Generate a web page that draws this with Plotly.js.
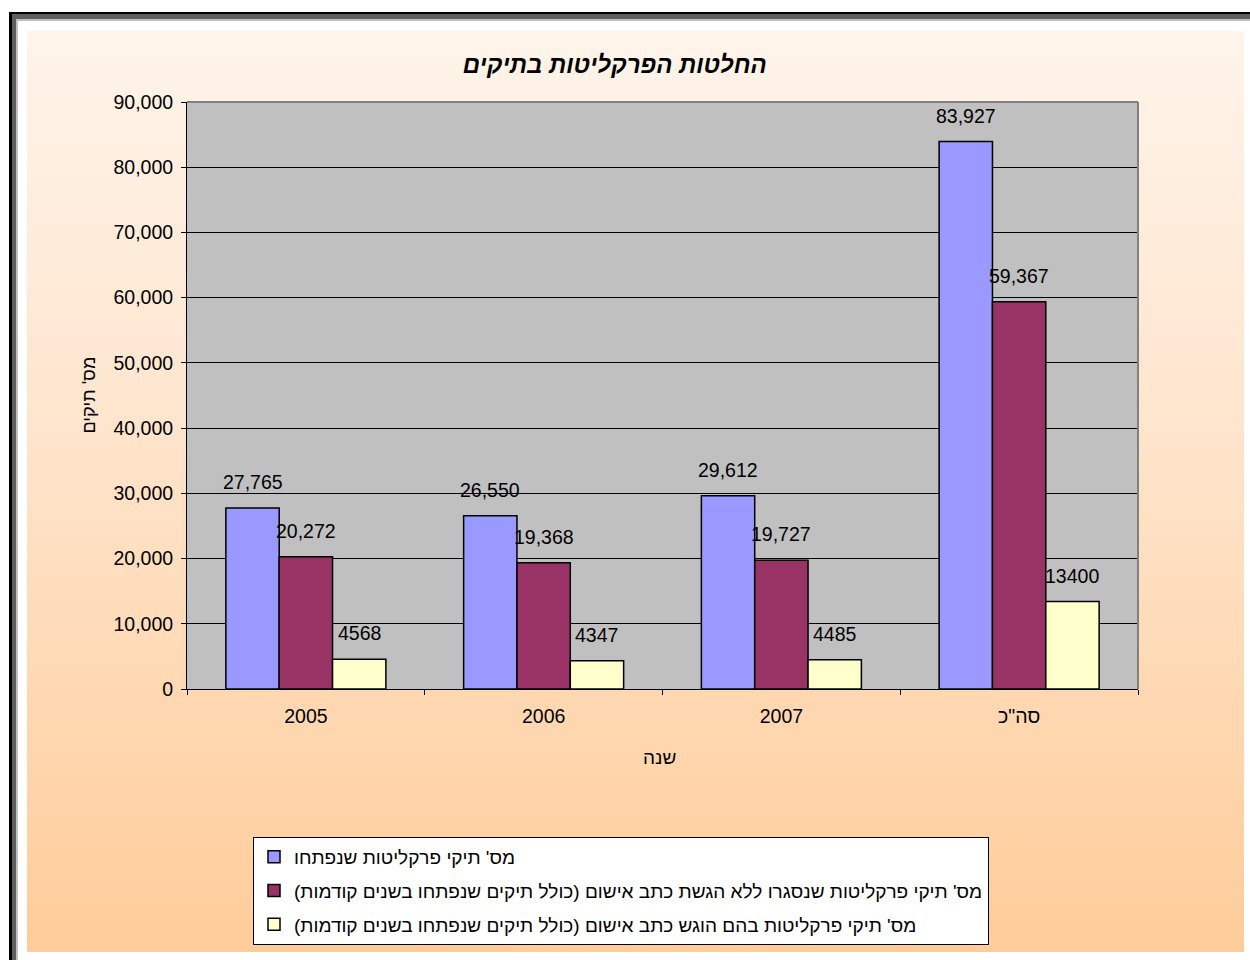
<!DOCTYPE html>
<html>
<head>
<meta charset="utf-8">
<script src="https://cdn.plot.ly/plotly-3.0.1.min.js"></script>
<style>
  html, body { margin: 0; padding: 0; background: #ffffff; overflow: hidden; }
  #f1 { position: absolute; left: 9px; top: 12px; width: 1400px; height: 1100px; background: #000000; }
  #f2 { position: absolute; left: 12px; top: 14px; width: 1400px; height: 1100px; background: #5f5f5f; }
  #f3 { position: absolute; left: 16px; top: 19px; width: 1400px; height: 1100px; background: #c0c0c0; }
  #f4 { position: absolute; left: 18px; top: 21px; width: 1400px; height: 1100px; background: #ffffff; }
  #area { position: absolute; left: 27px; top: 31px; width: 1217px; height: 921px; overflow: hidden;
          background: linear-gradient(to bottom, #fef4ea 0%, #fee6cf 40%, #ffcc99 100%); }
  #chart { position: absolute; left: 0; top: 0; width: 1217px; height: 981px; }
</style>
</head>
<body>
<div id="f1"></div><div id="f2"></div><div id="f3"></div><div id="f4"></div>
<div id="area"><div id="chart"></div></div>
<script>
const categories = ["2005", "2006", "2007", "סה\"כ"];
const seriesNames = [
  "מס' תיקי פרקליטות שנפתחו",
  "מס' תיקי פרקליטות שנסגרו ללא הגשת כתב אישום (כולל תיקים שנפתחו בשנים קודמות)\u200F",
  "מס' תיקי פרקליטות בהם הוגש כתב אישום (כולל תיקים שנפתחו בשנים קודמות)\u200F"
];
const opened = [27765, 26550, 29612, 83927];
const closedNoIndictment = [20272, 19368, 19727, 59367];
const indicted = [4568, 4347, 4485, 13400];
const colors = ["#9999ff", "#993366", "#ffffcc"];

const allSeries = [opened, closedNoIndictment, indicted];
const labelFormats = [
  v => v.toLocaleString("en-US"),
  v => v.toLocaleString("en-US"),
  v => String(v)
];

const font = "Liberation Sans, Arial, DejaVu Sans, sans-serif";
const numSize = 19.5;

const traces = allSeries.map((vals, i) => ({
  type: "bar",
  name: seriesNames[i],
  x: categories,
  y: vals,
  legendgroup: "g" + i,
  marker: { color: colors[i], line: { color: "#000000", width: 1.5 } },
  hoverinfo: "y"
}));

const barPx = 53.3;
const annotations = [];
allSeries.forEach((vals, i) => {
  vals.forEach((v, j) => {
    annotations.push({
      x: j, y: v, xref: "x", yref: "y",
      text: labelFormats[i](v),
      showarrow: false, yanchor: "bottom", xanchor: "center",
      xshift: (i - 1) * barPx, yshift: 13,
      font: { family: font, size: numSize, color: "#000000" }
    });
  });
});
annotations.push({
  text: "מס' תיקים", xref: "paper", yref: "paper", x: -0.104, y: 0.5,
  textangle: -90, showarrow: false, xanchor: "center", yanchor: "middle",
  font: { family: font, size: 18, color: "#000000" }
});
annotations.push({
  text: "שנה", xref: "paper", yref: "paper", x: 0.497, y: -0.116,
  showarrow: false, xanchor: "center", yanchor: "middle",
  font: { family: font, size: 19, color: "#000000" }
});

const layout = {
  width: 1217, height: 981,
  margin: { l: 160, r: 106, t: 71, b: 323 },
  paper_bgcolor: "rgba(0,0,0,0)",
  plot_bgcolor: "#c0c0c0",
  barmode: "group",
  bargap: 0.327,
  bargroupgap: 0,
  showlegend: true,
  title: {
    text: "החלטות הפרקליטות בתיקים",
    x: 0.483, xref: "container", xanchor: "center",
    y: 1 - 34 / 981, yref: "container", yanchor: "middle",
    font: { family: font, size: 24, color: "#000000", weight: "bold", style: "italic" }
  },
  xaxis: {
    type: "category",
    range: [-0.5, 3.5],
    tickson: "boundaries",
    ticks: "outside", ticklen: 5, tickcolor: "#000000",
    showline: true, linecolor: "#000000", linewidth: 1,
    showgrid: false,
    tickangle: 0,
    automargin: false,
    tickfont: { family: font, size: numSize, color: "#000000" },
    ticklabelstandoff: 10
  },
  yaxis: {
    range: [0, 90000], dtick: 10000, tickformat: ",d",
    ticks: "outside", ticklen: 5, tickcolor: "#000000",
    showline: true, linecolor: "#000000", linewidth: 1,
    showgrid: true, gridcolor: "#000000", gridwidth: 1,
    zeroline: false,
    automargin: false,
    tickfont: { family: font, size: numSize, color: "#000000" },
    ticklabelstandoff: 4
  },
  legend: {
    x: 0.0694, y: -0.252, xanchor: "left", yanchor: "top",
    bgcolor: "#ffffff", bordercolor: "#000000", borderwidth: 1,
    font: { family: font, size: 19, color: "#000000" },
    tracegroupgap: 6, traceorder: "grouped"
  },
  shapes: [
    { type: "line", xref: "x domain", yref: "y domain", x0: 0, x1: 1, y0: 1, y1: 1,
      line: { color: "#808080", width: 2 } },
    { type: "line", xref: "x domain", yref: "y domain", x0: 1, x1: 1, y0: 0, y1: 1,
      line: { color: "#808080", width: 2 } }
  ],
  annotations: annotations
};

Plotly.newPlot("chart", traces, layout, { displayModeBar: false, staticPlot: true });
</script>
</body>
</html>
